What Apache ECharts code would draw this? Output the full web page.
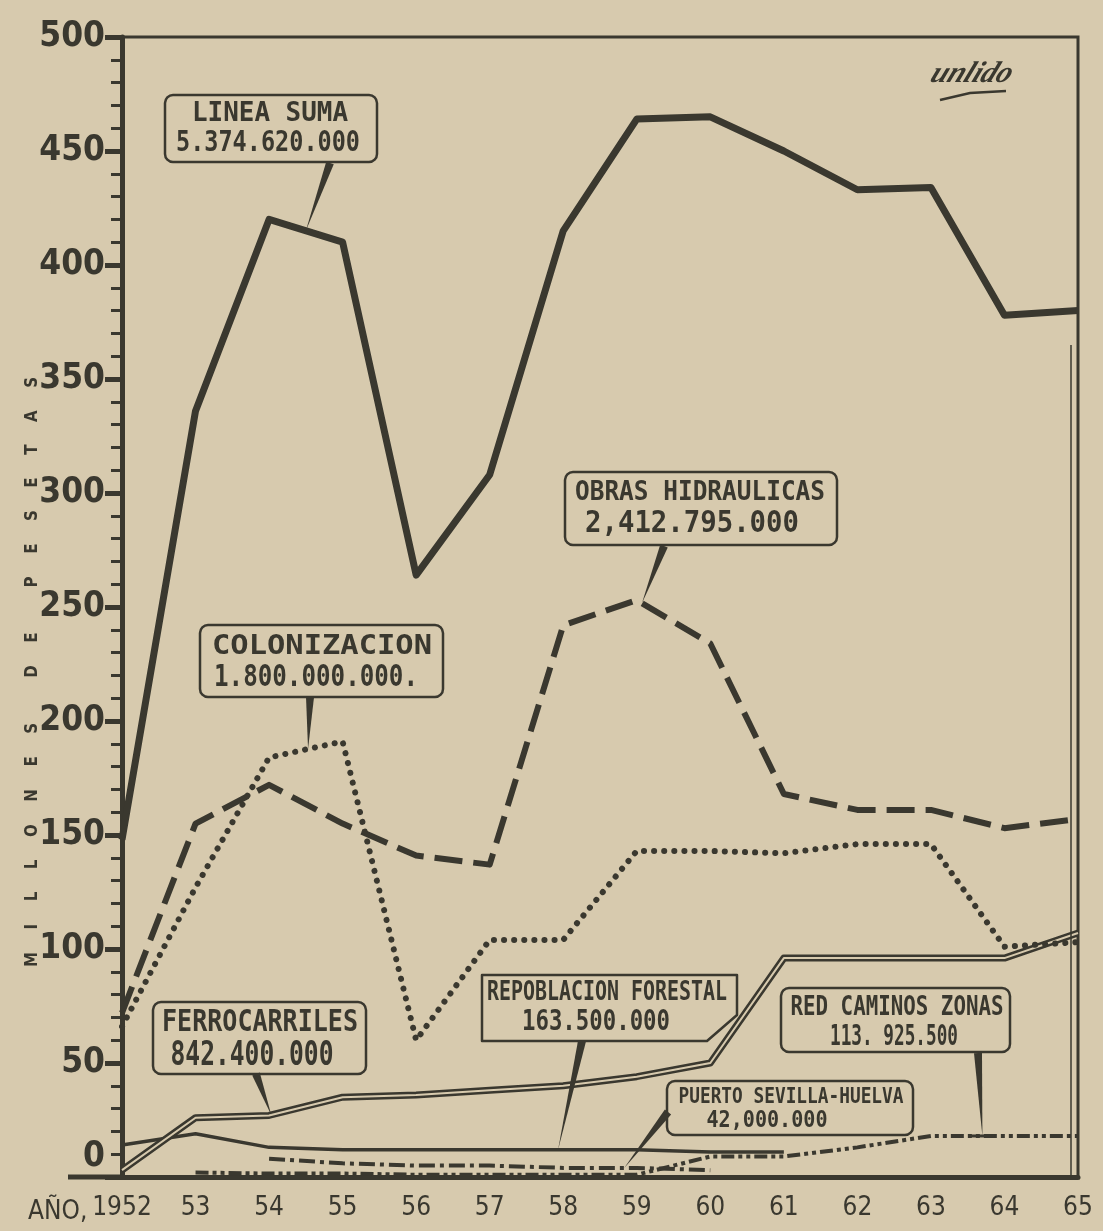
<!DOCTYPE html>
<html>
<head>
<meta charset="utf-8">
<script src="https://cdn.jsdelivr.net/npm/echarts@6/dist/echarts.min.js"></script>
<style>
html,body{margin:0;padding:0;background:#d7caae;}
#c{width:1103px;height:1231px;}
</style>
</head>
<body>
<div id="c"></div>
<script>
// ---------- DATA (millones de pesetas) ----------
const years = ['1952','53','54','55','56','57','58','59','60','61','62','63','64','65'];
const lineaSuma           = [148, 336, 420, 410, 264, 308, 415, 464, 465, 450, 433, 434, 378, 380];
const obrasHidraulicas    = [72, 155, 172, 155, 141, 137, 242, 253, 234, 168, 161, 161, 153, 157];
const colonizacion        = [66, 127, 184, 191, 60, 104, 104, 143, 143, 142, 146, 146, 101, 103];
const ferrocarriles       = [3, 26, 27, 35, 36, 38, 40, 44, 50, 96, 96, 96, 96, 107];
const repoblacionForestal = [14, 19, 13, 12, 12, 12, 12, 12, 11, 11, null, null, null, null];
const puertoSevilla       = [null, null, 8, 6, 5, 5, 4, 4, 3, null, null, null, null, null];
const redCaminos          = [null, 2, 1.5, 1.5, 1, 1, 1, 1, 9, 9, 13, 18, 18, 18];
const yMin = 0, yMax = 500, yStep = 50;

const titles = {
  suma:   ['LINEA SUMA', '5.374.620.000'],
  obras:  ['OBRAS HIDRAULICAS', '2,412.795.000'],
  colon:  ['COLONIZACION', '1.800.000.000.'],
  ferro:  ['FERROCARRILES', '842.400.000'],
  repob:  ['REPOBLACION FORESTAL', '163.500.000'],
  red:    ['RED CAMINOS ZONAS', '113. 925.500'],
  puerto: ['PUERTO SEVILLA-HUELVA', '42,000.000']
};
const axisTitle = 'MILLONES DE PESETAS';
const yearPrefix = 'AÑO,';
const signature = 'unlido';

// ---------- STYLE ----------
const INK = '#3a382f';
const BG = '#d7caae';
const NARROW = '"Liberation Sans Narrow","DejaVu Sans Condensed","Roboto Condensed","Roboto",sans-serif';
const MONO = '"DejaVu Sans Mono","Liberation Mono",monospace';

const chart = echarts.init(document.getElementById('c'), null, {renderer: 'canvas'});

const base = {type: 'line', symbol: 'none', silent: true, animation: false, connectNulls: false};
const option = {
  backgroundColor: BG,
  animation: false,
  grid: {left: 122, right: 25, top: 37, bottom: 54, show: true, borderColor: INK, borderWidth: 3, backgroundColor: 'transparent'},
  xAxis: {
    type: 'category', data: years, boundaryGap: false,
    axisLine: {lineStyle: {color: INK, width: 5}},
    axisTick: {show: false},
    splitLine: {show: false},
    axisLabel: {color: INK, fontFamily: NARROW, fontSize: 26, margin: 18, interval: 0}
  },
  yAxis: {
    type: 'value', min: yMin, max: yMax, interval: yStep,
    axisLine: {show: true, lineStyle: {color: INK, width: 5}},
    axisTick: {show: true, length: 17, lineStyle: {color: INK, width: 5}},
    minorTick: {show: true, splitNumber: 5, length: 11, lineStyle: {color: INK, width: 3}},
    splitLine: {show: false},
    minorSplitLine: {show: false},
    axisLabel: {
      color: INK, fontFamily: NARROW, fontWeight: 'bold', fontSize: 35, margin: 17,
      formatter: v => v === 0 ? '{z|0}' : String(v),
      rich: {z: {color: INK, fontFamily: NARROW, fontWeight: 'bold', fontSize: 35, padding: [0, 0, 40, 0]}}
    }
  },
  series: [
    Object.assign({}, base, {name: 'LINEA SUMA', data: lineaSuma, z: 6,
      lineStyle: {color: INK, width: 7, join: 'round'}}),
    Object.assign({}, base, {name: 'OBRAS HIDRAULICAS', data: obrasHidraulicas, z: 5,
      lineStyle: {color: INK, width: 6, type: [28, 11], cap: 'butt', join: 'round'}}),
    Object.assign({}, base, {name: 'COLONIZACION', data: colonizacion, z: 5,
      lineStyle: {color: INK, width: 6, type: [0.1, 10], cap: 'round'}}),
    Object.assign({}, base, {name: 'FERROCARRILES', data: ferrocarriles, z: 3,
      lineStyle: {color: INK, width: 7, join: 'round'}}),
    Object.assign({}, base, {name: 'FERROCARRILES_inner', data: ferrocarriles, z: 4,
      lineStyle: {color: BG, width: 2, join: 'round'}}),
    Object.assign({}, base, {name: 'REPOBLACION FORESTAL', data: repoblacionForestal, z: 2,
      lineStyle: {color: INK, width: 3.5}}),
    Object.assign({}, base, {name: 'PUERTO SEVILLA-HUELVA', data: puertoSevilla, z: 2,
      lineStyle: {color: INK, width: 4, type: [16, 5, 4, 5]}}),
    Object.assign({}, base, {name: 'RED CAMINOS ZONAS', data: redCaminos, z: 2,
      lineStyle: {color: INK, width: 4, type: [13, 4, 4, 4, 4, 4]}})
  ]
};
chart.setOption(option);

// ---------- ANNOTATIONS ----------
const mctx = document.createElement('canvas').getContext('2d');
function textW(font, s) { mctx.font = font; return mctx.measureText(s).width; }

function pointOn(arr, at) {
  const i0 = Math.floor(at), f = at - i0;
  const p0 = chart.convertToPixel({gridIndex: 0}, [i0, arr[i0]]);
  const p1 = chart.convertToPixel({gridIndex: 0}, [i0 + 1, arr[i0 + 1]]);
  return [p0[0] + (p1[0] - p0[0]) * f, p0[1] + (p1[1] - p0[1]) * f];
}

// lettering-guide style text: monospace, stretched to the measured width / height
function fittedText(str, cx, cy, capH, width) {
  const size = Math.round(capH / 0.73);
  const font = 'bold ' + size + 'px ' + MONO;
  const w = textW(font, str);
  return {
    type: 'text', x: cx, y: cy, scaleX: width / w, z: 100,
    style: {text: str, font: font, fill: INK, textAlign: 'center', textVerticalAlign: 'middle'}
  };
}

function wedge(from, tip, w) {
  const dx = tip[0] - from[0], dy = tip[1] - from[1];
  const L = Math.hypot(dx, dy);
  const nx = -dy / L * w / 2, ny = dx / L * w / 2;
  return {type: 'polygon', z: 100, shape: {points: [[from[0] + nx, from[1] + ny], [from[0] - nx, from[1] - ny], tip]}, style: {fill: INK}};
}

// layout of the annotation boxes (pixels): [centerX, centerY, width, capHeight]
const notes = [
  {key: 'suma', box: [165, 95, 212, 67], l1: [270, 114, 156, 19], l2: [268, 143, 184, 21], from: [330, 163], series: lineaSuma, at: 2.5},
  {key: 'obras', box: [565, 472, 272, 73], l1: [700, 493, 250, 20], l2: [692, 524, 214, 22], from: [664, 546], series: obrasHidraulicas, at: 7.07},
  {key: 'colon', box: [200, 625, 243, 72], l1: [322, 647, 220, 19], l2: [316, 678, 204, 22], from: [310, 697], series: colonizacion, at: 2.53},
  {key: 'ferro', box: [153, 1002, 213, 72], l1: [260, 1023, 196, 22], l2: [252, 1056, 163, 24], from: [256, 1074], series: ferrocarriles, at: 2.03},
  {key: 'repob', box: null, l1: [607, 993, 240, 20], l2: [596, 1022, 148, 21], from: [582, 1041], series: repoblacionForestal, at: 5.93},
  {key: 'red', box: [781, 988, 229, 64], l1: [897, 1008, 213, 20], l2: [894, 1037, 128, 21], from: [978, 1053], series: redCaminos, at: 11.7, tbar: true},
  {key: 'puerto', box: [667, 1081, 246, 54], l1: [791, 1097, 225, 16], l2: [767, 1121, 121, 17], from: [668, 1112], series: puertoSevilla, at: 6.83}
];

const graphics = [];
notes.forEach(n => {
  if (n.box) {
    graphics.push({type: 'rect', z: 99, shape: {x: n.box[0], y: n.box[1], width: n.box[2], height: n.box[3], r: 8},
      style: {fill: 'none', stroke: INK, lineWidth: 2.5}});
  } else {
    // chamfered box (Repoblacion Forestal)
    graphics.push({type: 'polygon', z: 99,
      shape: {points: [[482, 975], [737, 975], [737, 1015], [707, 1041], [482, 1041]]},
      style: {fill: 'none', stroke: INK, lineWidth: 2.5, lineJoin: 'round'}});
  }
  const t = titles[n.key];
  graphics.push(fittedText(t[0], n.l1[0], n.l1[1], n.l1[3], n.l1[2]));
  graphics.push(fittedText(t[1], n.l2[0], n.l2[1], n.l2[3], n.l2[2]));
  const tip = pointOn(n.series, n.at);
  graphics.push(wedge(n.from, tip, 8));
  if (n.tbar) {
    graphics.push({type: 'line', z: 100, shape: {x1: tip[0] - 12, y1: tip[1], x2: tip[0] + 12, y2: tip[1]}, style: {stroke: INK, lineWidth: 3}});
  }
});

// vertical axis title with wide letter spacing
const titleFont = 'bold 17px ' + NARROW;
const spaced = axisTitle.split(' ').map(w => w.split('').join('\u2003\u2002')).join('\u2003\u2003\u2003');
const tW = textW(titleFont, spaced);
graphics.push({type: 'text', x: 33, y: 672, rotation: Math.PI / 2, scaleX: 590 / tW, z: 100,
  style: {text: spaced, font: titleFont, fill: INK, textAlign: 'center', textVerticalAlign: 'middle'}});

// "AÑO," before the first year label
graphics.push({type: 'text', x: 28, y: 1212, z: 100,
  style: {text: yearPrefix, font: 'normal 26px ' + NARROW, fill: INK, textAlign: 'left', textVerticalAlign: 'middle'}});

// x-axis line extends to the left of the vertical axis
graphics.push({type: 'line', z: 100, shape: {x1: 68, y1: 1177, x2: 124, y2: 1177}, style: {stroke: INK, lineWidth: 5}});
// inner thin line of the doubled right border
graphics.push({type: 'line', z: 100, shape: {x1: 1071, y1: 345, x2: 1071, y2: 1177}, style: {stroke: INK, lineWidth: 1.5}});

// signature
graphics.push({type: 'text', x: 972, y: 74, z: 100, skewX: -0.4,
  style: {text: signature, font: 'italic bold 30px "Liberation Serif", serif', fill: INK, textAlign: 'center', textVerticalAlign: 'middle'}});
graphics.push({type: 'polyline', z: 100, shape: {points: [[940, 100], [970, 93], [1006, 91]]}, style: {stroke: INK, lineWidth: 2.5, fill: 'none'}});

chart.setOption({graphic: graphics});
</script>
</body>
</html>
